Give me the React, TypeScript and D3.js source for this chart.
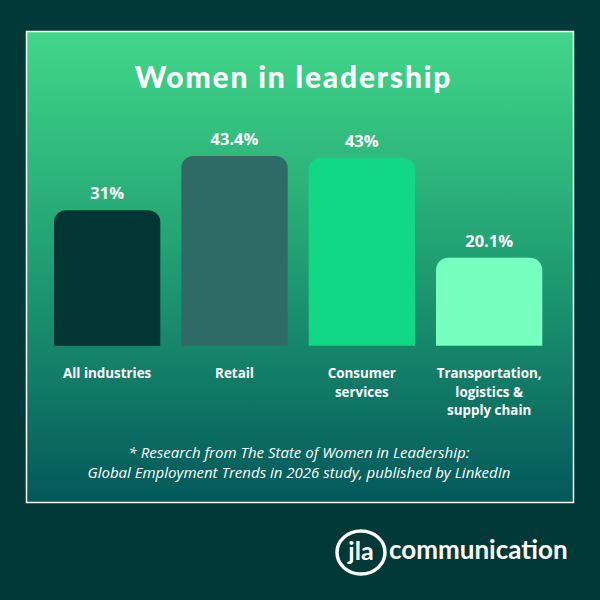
import * as d3 from 'd3';

const categories = ['All industries', 'Retail', 'Consumer services', 'Transportation, logistics & supply chain'];
const categoryLines = [['All industries'], ['Retail'], ['Consumer', 'services'], ['Transportation,', 'logistics &', 'supply chain']];
const values = [31, 43.4, 43, 20.1];
const valueLabels = ['31%', '43.4%', '43%', '20.1%'];
const barColors = ['#013635', '#2e6a66', '#10d884', '#76ffbf'];
const footnote = [
  '* Research from The State of Women in Leadership:',
  'Global Employment Trends in 2026 study, published by LinkedIn',
];

const W = 600;
const H = 600;
const baseY = 345.7;
const radius = 12;

function topRounded(x: number, y: number, w: number, h: number, r: number) {
  const p = d3.path();
  p.moveTo(x, y + h);
  p.lineTo(x, y + r);
  p.arcTo(x, y, x + r, y, r);
  p.lineTo(x + w - r, y);
  p.arcTo(x + w, y, x + w, y + r, r);
  p.lineTo(x + w, y + h);
  p.closePath();
  return p.toString();
}

export default function App() {
  const x = d3.scaleBand<string>().domain(categories).range([54, 542.3]).paddingInner(0.165).paddingOuter(0);
  const y = d3.scaleLinear().domain([0, 50]).range([baseY, baseY - 50 * 4.37]);

  return (
    <svg
      width={W}
      height={H}
      viewBox={`0 0 ${W} ${H}`}
      style={{ position: 'fixed', left: 0, top: 0, display: 'block' }}
    >
      <defs>
        <linearGradient id="bg" x1="0" y1="0" x2="0" y2="1">
          <stop offset="0%" stopColor="#42d789" />
          <stop offset="45%" stopColor="#22a474" />
          <stop offset="100%" stopColor="#03585a" />
        </linearGradient>
      </defs>
      <rect width={W} height={H} fill="#013838" />
      <rect x={26.5} y={31.5} width={547} height={471} fill="url(#bg)" stroke="#ffffff" strokeWidth={1.5} />

      <text
        x={293.5}
        y={88.3}
        textAnchor="middle"
        fill="#ffffff"
        fontFamily="Lato, sans-serif"
        fontWeight={900}
        fontSize={30}
        letterSpacing={1.8}
      >
        Women in leadership
      </text>

      {categories.map((c, i) => {
        const bx = x(c)!;
        const by = y(values[i]);
        const cx = bx + x.bandwidth() / 2;
        return (
          <g key={c}>
            <path d={topRounded(bx, by, x.bandwidth(), baseY - by, radius)} fill={barColors[i]} />
            <text
              x={cx}
              y={by - 11}
              textAnchor="middle"
              fill="#ffffff"
              fontFamily="'Open Sans', sans-serif"
              fontWeight={700}
              fontSize={16.5}
            >
              {valueLabels[i]}
            </text>
            <text
              x={cx}
              y={378}
              textAnchor="middle"
              fill="#ffffff"
              fontFamily="'Open Sans', sans-serif"
              fontWeight={700}
              fontSize={13.4}
            >
              {categoryLines[i].map((l, j) => (
                <tspan key={j} x={cx} dy={j === 0 ? 0 : 18.5}>
                  {l}
                </tspan>
              ))}
            </text>
          </g>
        );
      })}

      <text
        textAnchor="middle"
        fill="#ffffff"
        fontFamily="'Open Sans', sans-serif"
        fontStyle="italic"
        fontSize={15}
      >
        {footnote.map((l, j) => (
          <tspan key={j} x={299} y={457.5 + j * 20}>
            {l}
          </tspan>
        ))}
      </text>

      <g>
        <ellipse cx={361} cy={552.5} rx={24} ry={21.5} fill="none" stroke="#ffffff" strokeWidth={3.5} />
        <text
          x={361}
          y={560}
          textAnchor="middle"
          fill="#ffffff"
          fontFamily="Lato, sans-serif"
          fontWeight={700}
          fontSize={25}
        >
          jla
        </text>
        <text
          x={389}
          y={559}
          fill="#ffffff"
          fontFamily="Lato, sans-serif"
          fontWeight={700}
          fontSize={26}
        >
          communication
        </text>
      </g>
    </svg>
  );
}
